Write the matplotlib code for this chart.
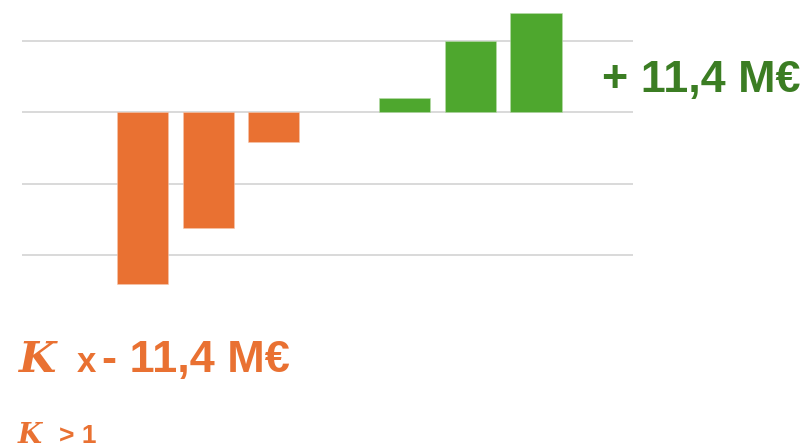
import matplotlib
matplotlib.use("Agg")
import matplotlib.pyplot as plt

# Data
positions_neg = [0, 1, 2]
values_neg = [-2.41, -1.62, -0.41]
positions_pos = [4, 5, 6]
values_pos = [0.2, 1.0, 1.39]
gridlines = [1, 0, -1, -2]

ORANGE = "#E97132"
GREEN = "#4EA72E"
DARKGREEN = "#3B7D23"

W, H = 807, 447
fig = plt.figure(figsize=(W / 100, H / 100), dpi=100)

def fx(px):
    return px / W

def fy(py):
    return 1 - py / H

ax = fig.add_axes([fx(22), fy(290.8), (633 - 22) / W, (290.8 - 5.2) / H])
ax.set_xlim(-1.84, 7.48)
ax.set_ylim(-2.5, 1.5)
for g in gridlines:
    ax.axhline(g, color="#d9d9d9", lw=1.4, zorder=0)
ax.bar(positions_neg, values_neg, width=0.78, color=ORANGE, edgecolor="#f6c7ad", linewidth=0.4, zorder=2)
ax.bar(positions_pos, values_pos, width=0.78, color=GREEN, edgecolor="#b9dcab", linewidth=0.4, zorder=2)
ax.axis("off")

sans = "Liberation Sans"
serif = "DejaVu Serif"

fig.text(fx(602), fy(91.7), "+ 11,4 M€", color=DARKGREEN, fontsize=32.3, fontweight="bold",
         family=sans, va="baseline", ha="left")

fig.text(fx(18), fy(371.7), "K", color=ORANGE, fontsize=31, fontweight="bold", fontstyle="italic",
         family=serif, va="baseline", ha="left")
fig.text(fx(77), fy(371.7), "x", color=ORANGE, fontsize=25, fontweight="bold",
         family=sans, va="baseline", ha="left")
fig.text(fx(102), fy(371.7), "- 11,4 M€", color=ORANGE, fontsize=32.5, fontweight="bold",
         family=sans, va="baseline", ha="left")

fig.text(fx(18), fy(443), "K", color=ORANGE, fontsize=20, fontweight="bold", fontstyle="italic",
         family=serif, va="baseline", ha="left")
fig.text(fx(59), fy(443), "> 1", color=ORANGE, fontsize=19, fontweight="bold",
         family=sans, va="baseline", ha="left")

fig.savefig("out.png", dpi=100)
